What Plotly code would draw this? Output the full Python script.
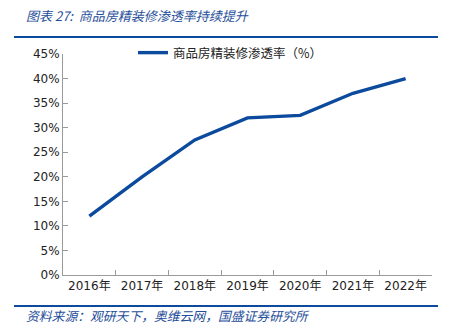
import plotly.graph_objects as go

years = ["2016年", "2017年", "2018年", "2019年", "2020年", "2021年", "2022年"]
rates = [12, 20, 27.5, 32, 32.5, 37, 40]
series_name = "商品房精装修渗透率（%）"
title_text = "图表 27:  商品房精装修渗透率持续提升"
source_text = "资料来源：观研天下，奥维云网，国盛证券研究所"

blue = "#0b4a9c"
text_blue = "#1f4e9a"
font_fam = "DejaVu Sans, Noto Sans CJK SC"

# plot area in pixels: x 63..432, y 54..275
PL, PR, PT, PB = 63, 432, 54, 275
def px(x):
    return (x - PL) / (PR - PL)
def py(y):
    return (PB - y) / (PB - PT)

fig = go.Figure()
fig.add_trace(go.Scatter(x=years, y=rates, mode="lines", name=series_name,
                         line=dict(color=blue, width=3.4)))

fig.update_layout(
    width=463, height=336,
    margin=dict(l=PL, r=463 - PR, t=PT, b=336 - PB),
    paper_bgcolor="white", plot_bgcolor="white",
    font=dict(family=font_fam, size=12, color="#222222"),
    showlegend=True,
    legend=dict(x=px(133), y=py(53), xanchor="left", yanchor="middle",
                bgcolor="rgba(0,0,0,0)",
                font=dict(size=12.5, family="Noto Sans CJK SC", color="#222222"),
                itemwidth=30),
    xaxis=dict(type="category", range=[-0.5, 6.5], showline=True, linecolor="#9a9a9a",
               linewidth=1, ticks="inside", ticklen=5, tickcolor="#9a9a9a",
               tickson="boundaries", showgrid=False, zeroline=False,
               tickfont=dict(size=12, color="#222222")),
    yaxis=dict(range=[0, 45], dtick=5, ticksuffix="%", showline=True, linecolor="#9a9a9a",
               linewidth=1, ticks="inside", ticklen=5, tickcolor="#9a9a9a",
               showgrid=False, zeroline=False, tickfont=dict(size=12, color="#222222")),
    shapes=[
        dict(type="line", xref="paper", yref="paper", x0=px(14), x1=px(438),
             y0=py(37), y1=py(37), line=dict(color=blue, width=2)),
        dict(type="line", xref="paper", yref="paper", x0=px(14), x1=px(438),
             y0=py(306), y1=py(306), line=dict(color=blue, width=2)),
    ],
    annotations=[
        dict(text="<i>" + title_text + "</i>", xref="paper", yref="paper",
             x=px(24), y=py(16), xanchor="left", yanchor="middle",
             showarrow=False, font=dict(size=13, color=text_blue, family="Noto Sans CJK SC")),
        dict(text="<i>" + source_text + "</i>", xref="paper", yref="paper",
             x=px(24), y=py(315), xanchor="left", yanchor="middle",
             showarrow=False, font=dict(size=12.8, color=text_blue, family="Noto Sans CJK SC")),
    ],
)

fig.write_html("out.html")
